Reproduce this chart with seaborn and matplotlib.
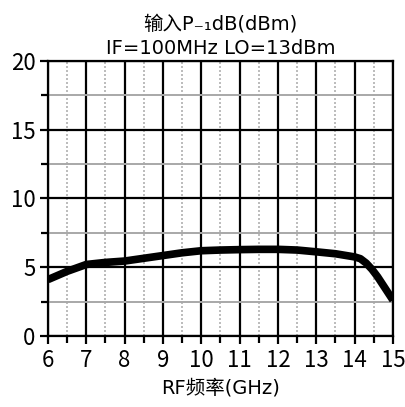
import matplotlib
matplotlib.use("Agg")
import matplotlib.pyplot as plt
import seaborn as sns
import pandas as pd
from matplotlib.ticker import MultipleLocator

# RF frequency (GHz) and input P-1dB (dBm)
freq_ghz = [6.0, 6.5, 7.0, 7.5, 8.0, 8.5, 9.0, 9.5, 10.0, 10.5, 11.0, 11.5, 12.0,
            12.5, 13.0, 13.5, 14.0, 14.15, 14.3, 14.45, 14.6, 14.8, 15.0]
p1db_dbm = [4.1, 4.7, 5.2, 5.35, 5.45, 5.65, 5.85, 6.05, 6.2, 6.25, 6.28, 6.3, 6.3,
            6.25, 6.12, 5.98, 5.75, 5.62, 5.3, 4.85, 4.3, 3.45, 2.6]
x_ticks = [6, 7, 8, 9, 10, 11, 12, 13, 14, 15]
y_ticks = [0, 5, 10, 15, 20]

sns.set_theme(style="white")
plt.rcParams["font.family"] = ["Noto Sans CJK SC", "DejaVu Sans"]
plt.rcParams["text.color"] = "black"
plt.rcParams["axes.labelcolor"] = "black"
plt.rcParams["xtick.color"] = "black"
plt.rcParams["ytick.color"] = "black"
latin_first = ["DejaVu Sans", "Noto Sans CJK SC"]

df = pd.DataFrame({"freq": freq_ghz, "p1db": p1db_dbm})

fig = plt.figure(figsize=(4.06, 4.07), dpi=100)
ax = fig.add_axes([0.118, 0.1744, 0.850, 0.676])

# grid: major black, minor x dotted grey, minor y solid grey
ax.xaxis.set_minor_locator(MultipleLocator(0.5))
ax.yaxis.set_minor_locator(MultipleLocator(2.5))
ax.grid(which="major", color="black", linewidth=1.6, linestyle="-")
ax.grid(which="minor", axis="x", color="#b0b0b0", linewidth=1.2, linestyle=(0, (1.2, 1.2)))
ax.grid(which="minor", axis="y", color="#a8a8a8", linewidth=1.4, linestyle="-")
ax.set_axisbelow(True)

sns.lineplot(data=df, x="freq", y="p1db", ax=ax, color="black", linewidth=5.5,
             solid_capstyle="butt", solid_joinstyle="round")

ax.set_xlim(6, 15)
ax.set_ylim(0, 20)
ax.set_xticks(x_ticks)
ax.set_yticks(y_ticks)
ax.tick_params(which="both", direction="out", color="black", width=1.6,
               labelsize=16, labelcolor="black", bottom=True, left=True)
ax.tick_params(which="major", length=6, pad=3)
ax.tick_params(which="minor", length=5)
for s in ax.spines.values():
    s.set_color("black")
    s.set_linewidth(1.6)

ax.set_xlabel("RF频率(GHz)", fontsize=14, labelpad=5, family=latin_first, color="black")
ax.set_ylabel("")
ax.set_title("输入P₋₁dB(dBm)\nIF=100MHz LO=13dBm", fontsize=14, pad=5,
             linespacing=1.35, family=latin_first, color="black")

fig.savefig("out.png", dpi=100)
